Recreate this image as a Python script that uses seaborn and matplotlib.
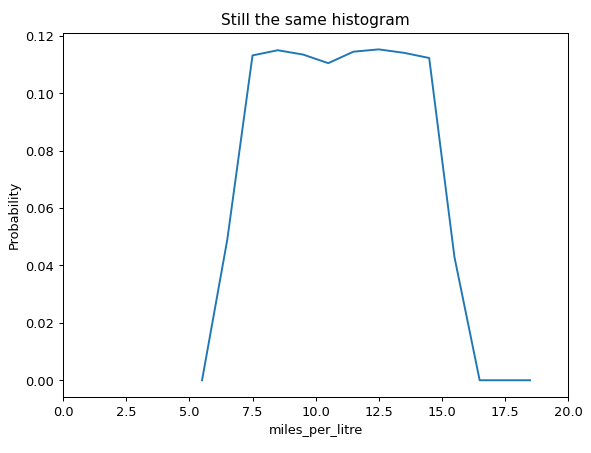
import seaborn as sns
import matplotlib.pyplot as plt
import pandas as pd

bin_centres = [5.5, 6.5, 7.5, 8.5, 9.5, 10.5, 11.5, 12.5, 13.5, 14.5, 15.5, 16.5, 17.5, 18.5]
probability = [0.0, 0.049, 0.1132, 0.1150, 0.1135, 0.1105, 0.1145, 0.1153, 0.1141, 0.1123, 0.043, 0.0, 0.0, 0.0]

df = pd.DataFrame({"miles_per_litre": bin_centres, "Probability": probability})

fig, ax = plt.subplots(figsize=(6.4, 4.908), dpi=92.35)
sns.lineplot(data=df, x="miles_per_litre", y="Probability", ax=ax)
ax.set_xlim(0, 20)
ax.set_title("Still the same histogram")
fig.subplots_adjust(left=0.107, right=0.961, top=0.927, bottom=0.124)
plt.savefig("out.png")
